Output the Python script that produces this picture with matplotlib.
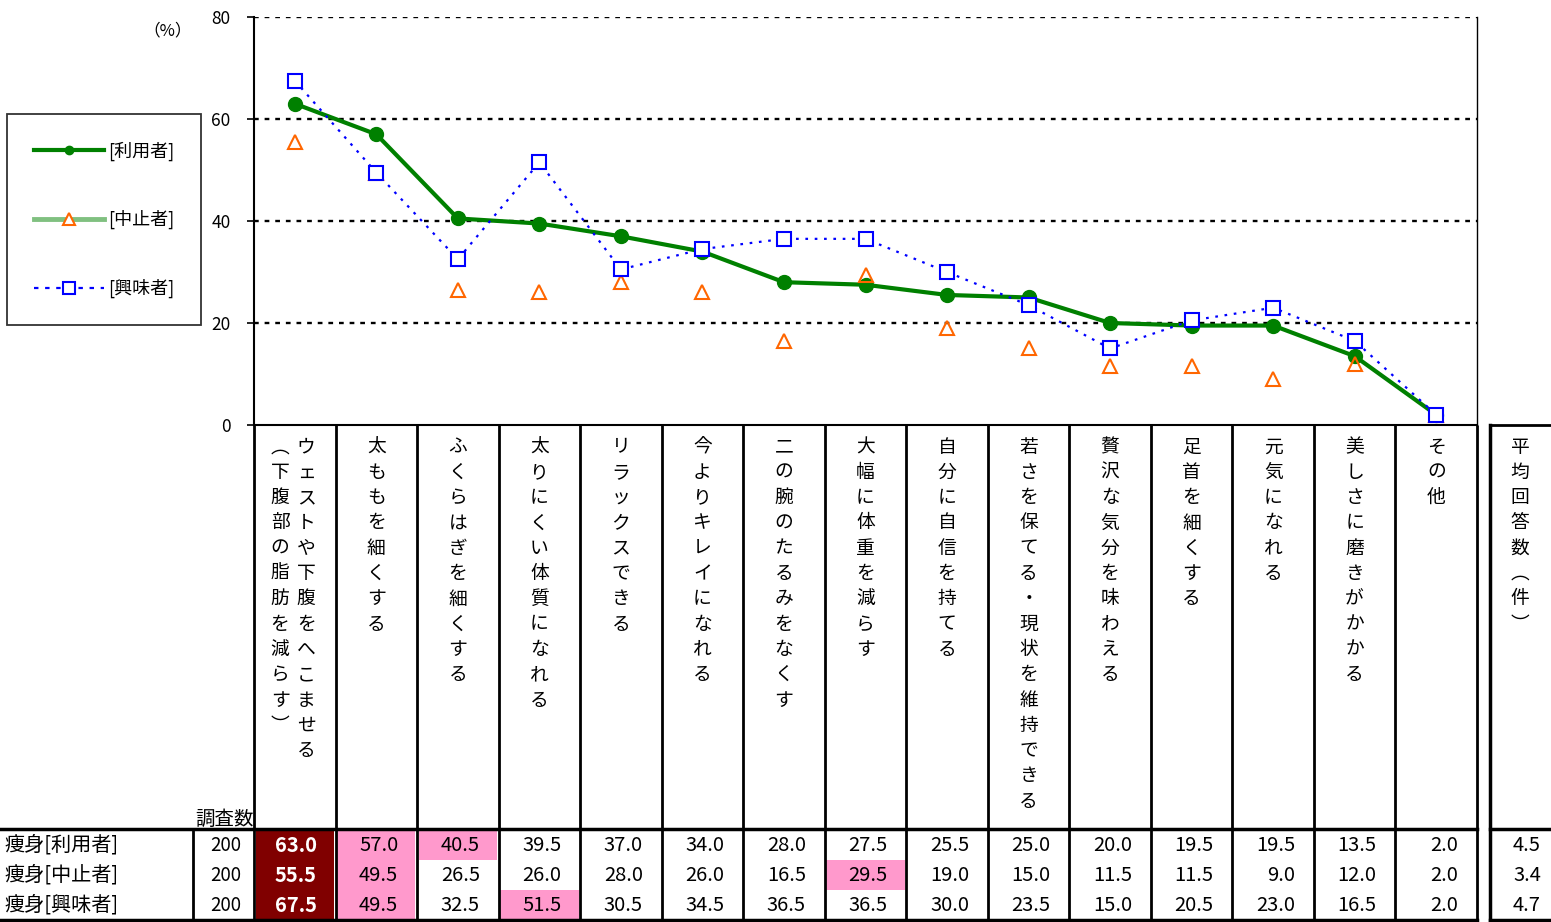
import matplotlib
matplotlib.use("Agg")
import matplotlib.pyplot as plt
import numpy as np
from matplotlib.lines import Line2D
from matplotlib.transforms import blended_transform_factory

plt.rcParams["font.family"] = ["Noto Sans CJK JP", "DejaVu Sans"]

# 項目（縦書き）
categories = [
    "ウェストや下腹をへこませる",
    "太ももを細くする",
    "ふくらはぎを細くする",
    "太りにくい体質になれる",
    "リラックスできる",
    "今よりキレイになれる",
    "二の腕のたるみをなくす",
    "大幅に体重を減らす",
    "自分に自信を持てる",
    "若さを保てる・現状を維持できる",
    "贅沢な気分を味わえる",
    "足首を細くする",
    "元気になれる",
    "美しさに磨きがかかる",
    "その他",
]
sub_label = "︵下腹部の脂肪を減らす︶"

series_names = ["[利用者]", "[中止者]", "[興味者]"]
row_labels = ["痩身[利用者]", "痩身[中止者]", "痩身[興味者]"]
counts = [200, 200, 200]
riyo = [63.0, 57.0, 40.5, 39.5, 37.0, 34.0, 28.0, 27.5, 25.5, 25.0, 20.0, 19.5, 19.5, 13.5, 2.0]
chushi = [55.5, 49.5, 26.5, 26.0, 28.0, 26.0, 16.5, 29.5, 19.0, 15.0, 11.5, 11.5, 9.0, 12.0, 2.0]
kyomi = [67.5, 49.5, 32.5, 51.5, 30.5, 34.5, 36.5, 36.5, 30.0, 23.5, 15.0, 20.5, 23.0, 16.5, 2.0]
avg_answers = [4.5, 3.4, 4.7]
yticks = [0, 20, 40, 60, 80]

W, H = 1551, 922
fig = plt.figure(figsize=(W / 100, H / 100), dpi=100)

# 全体をピクセル座標で扱う下敷き
tab = fig.add_axes([0, 0, 1, 1])
tab.set_xlim(0, W)
tab.set_ylim(H, 0)
tab.axis("off")

ax = fig.add_axes([254 / W, 1 - 425 / H, (1477 - 254) / W, (425 - 17) / H])
ax.set_facecolor("none")
n = len(categories)
x = np.arange(n)

ax.plot(x, riyo, color="#008000", lw=3, marker="o", ms=10, mfc="#008000", mec="#008000", zorder=3)
ax.plot(x, chushi, ls="none", marker="^", ms=10, mfc="none", mec="#FF6600", mew=1.5, zorder=4)
ax.plot(x, kyomi, color="#0000FF", lw=1.6, ls=(0, (1.2, 3)), marker="s", ms=9.5,
        mfc="white", mec="#0000FF", mew=1.5, zorder=5)

ax.set_xlim(-0.5, n - 0.5)
ax.set_ylim(0, 80)
ax.set_yticks(yticks)
ax.set_xticks([])
ax.tick_params(axis="y", labelsize=12.5, length=5, width=1.2, pad=12)
for yv in yticks[1:]:
    ax.axhline(yv, color="black", lw=1.7, ls=(0, (2, 2.5)), zorder=1)
ax.spines["top"].set_visible(False)
ax.spines["left"].set_linewidth(1.5)
ax.spines["bottom"].set_linewidth(1.5)
ax.spines["right"].set_linewidth(1)

fig.text(168 / W, 1 - 31 / H, "（%）", fontsize=12, ha="center", va="center")

# 凡例
handles = [
    Line2D([], [], color="#008000", lw=3, marker="o", ms=6, mfc="#008000", mec="#008000"),
    Line2D([], [], color="#80C080", lw=3.5, marker="^", ms=9, mfc="white", mec="#FF6600", mew=1.5),
    Line2D([], [], color="#0000FF", lw=1.6, ls=(0, (2, 3)), marker="s", ms=9, mfc="white",
           mec="#0000FF", mew=1.5),
]
leg = tab.legend(handles, series_names, loc="upper left", bbox_to_anchor=(7, 114),
                 bbox_transform=tab.transData, fontsize=13, frameon=True, fancybox=False,
                 handlelength=3.9, handletextpad=0.2, labelspacing=2.75, borderpad=1.5,
                 borderaxespad=0)
leg.get_frame().set_edgecolor("black")
leg.get_frame().set_linewidth(1.3)

# 表とラベル
tr = blended_transform_factory(ax.transData, tab.transData)
pitch = 25.3
y0 = 447


def vtext(xc, s, transform, **kw):
    for k, ch in enumerate(s):
        tab.text(xc, y0 + k * pitch, ch, transform=transform, ha="center", va="center",
                 fontsize=13.5, **kw)


for i, cat in enumerate(categories):
    if i == 0:
        vtext(i + 0.14, cat, tr)
        vtext(i - 0.18, sub_label, tr)
    else:
        vtext(i, cat, tr)

bounds = np.arange(n + 1) - 0.5
for b in bounds:
    tab.plot([b, b], [425, 920], transform=tr, color="black", lw=2, solid_capstyle="butt")

tab.plot([0, 1477], [829, 829], color="black", lw=2.5)
tab.plot([0, 1477], [920, 920], color="black", lw=2.5)
tab.plot([193, 193], [829, 920], color="black", lw=2)
tab.plot([1490, W], [829, 829], color="black", lw=2.5)
tab.plot([1490, W], [920, 920], color="black", lw=2.5)
tab.plot([1490, W], [425, 425], color="black", lw=2)
tab.plot([1490, 1490], [425, 920], color="black", lw=2.5)
vtext(1520, "平均回答数︵件︶", tab.transData)

tab.text(225, 819, "調査数", fontsize=14, ha="center", va="center")

row_top = [830, 860, 890]
row_h = 30
table = [riyo, chushi, kyomi]
for r, vals in enumerate(table):
    yc = row_top[r] + row_h / 2
    tab.text(4, yc, row_labels[r], fontsize=14.5, ha="left", va="center")
    tab.text(241, yc, f"{counts[r]}", fontsize=13.5, ha="right", va="center")
    tab.text(1541, yc, f"{avg_answers[r]:.1f}", fontsize=14.5, ha="right", va="center")
    order = np.argsort(vals)[::-1]
    for i, v in enumerate(vals):
        rank = int(np.where(order == i)[0][0])
        color = "black"
        weight = "normal"
        if rank == 0:
            tab.fill_between([i - 0.48, i + 0.48], row_top[r], row_top[r] + row_h,
                             transform=tr, color="#800000", lw=0)
            color, weight = "white", "bold"
        elif rank <= 2:
            tab.fill_between([i - 0.48, i + 0.48], row_top[r], row_top[r] + row_h,
                             transform=tr, color="#FF99CC", lw=0)
        tab.text(i + 0.27, yc, f"{v:.1f}", transform=tr, fontsize=14.5, ha="right",
                 va="center", color=color, fontweight=weight)

fig.savefig("out.png", dpi=100)
plt.close(fig)
